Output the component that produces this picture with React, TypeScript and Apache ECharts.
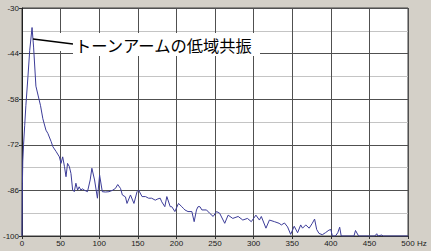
import React, { useEffect, useRef } from "react";
import * as echarts from "echarts";

// Frequency response (Hz, dB)
const freqHz: number[] = [
  0, 0.5, 1, 2, 3.5, 5, 7.7, 10, 13, 15, 18, 21, 24, 27, 31, 33.5, 37.7, 40, 44, 48.4,
  50.5, 52.7, 55, 57, 59, 61.3, 63.4, 65.6, 67.7, 69.8, 72, 74, 76.3, 78, 80.5, 84.8, 88.3, 90.5, 94, 97.7,
  100.5, 104, 108, 112.7, 117, 121, 124, 127.6, 130, 134, 136, 140.5, 145, 149, 151, 155.5, 160, 164, 168, 172.6,
  176, 179, 181, 185, 187.6, 192, 194, 198, 202.7, 207, 209, 211, 215, 220, 223, 226, 228, 230.5, 233, 239,
  243, 247.6, 252, 256, 262.6, 267, 273, 280, 286, 292, 297, 303, 307.5, 310, 316, 320.5, 327, 333, 336, 340,
  344, 348, 352.6, 357, 361, 363.4, 367.6, 372, 376, 379, 381.7, 384.7, 389, 393, 397.6, 400, 402, 406, 409, 411.5,
  413.5, 430, 432, 436, 457, 459.5, 461, 466, 468, 500,
];
const levelDb: number[] = [
  -100, -84, -77, -72, -66, -60, -51, -43, -36, -42, -54, -57, -60, -64, -67.5, -68.5, -71, -72.6, -74, -75.7,
  -77.7, -75.7, -78.7, -81.8, -77.7, -78.7, -80.8, -85.9, -86.4, -83.8, -85.9, -84.9, -85.9, -85.5, -85.9, -86.4, -82.8, -79.2, -82.8, -88.4,
  -81.3, -86.4, -86.5, -86.4, -86, -85.4, -84.2, -85.4, -87.4, -88, -90, -87.4, -90, -86.4, -85.9, -87.9, -87.9, -88.4, -88.4, -89,
  -88.6, -88.4, -89.5, -91, -87.9, -91, -91, -92.5, -90, -91, -91.5, -92, -92.5, -92.5, -95.6, -92, -91, -91, -92, -92,
  -93, -94, -92.5, -93, -96.1, -93.6, -94.6, -94, -95.1, -94.6, -95.6, -93.6, -95.1, -94, -97.6, -95.1, -95.6, -96.1, -96.6, -96,
  -97.2, -99.5, -97, -99, -96.6, -97.6, -96.6, -97.6, -96.1, -94.8, -98, -99.2, -99.6, -99, -98.2, -98, -100, -100, -99, -97.3,
  -100, -100, -98.3, -100, -100, -99.3, -100, -99.7, -100, -100,
];

const xTicks: number[] = [0, 50, 100, 150, 200, 250, 300, 350, 400, 450, 500];
const yTicks: number[] = [-100, -86, -72, -58, -44, -30];
const unitLabel = "Hz";
const annotation = "トーンアームの低域共振";

export default function App() {
  const ref = useRef<HTMLDivElement>(null);
  useEffect(() => {
    if (!ref.current) return;
    const chart = echarts.init(ref.current, null, { renderer: "svg" });
    const data = freqHz.map((f, i) => [f, levelDb[i]]);
    const labelStyle = {
      color: "#1a1a1a",
      fontSize: 8,
      fontFamily: "Liberation Sans, Arial, sans-serif",
    };
    chart.setOption({
      animation: false,
      backgroundColor: "#d4d0c8",
      grid: {
        left: 19,
        top: 8,
        width: 389,
        height: 228,
        show: true,
        backgroundColor: "#ffffff",
        borderColor: "#404040",
        borderWidth: 1,
      },
      xAxis: {
        type: "value",
        min: xTicks[0],
        max: xTicks[xTicks.length - 1],
        interval: 50,
        axisLine: { show: true, lineStyle: { color: "#303030", width: 1 } },
        axisTick: { show: true, length: 3, lineStyle: { color: "#303030" } },
        axisLabel: { ...labelStyle, margin: 3, formatter: (v: number) => String(v) },
        splitLine: { show: true, lineStyle: { color: "#505050", width: 1 } },
      },
      yAxis: {
        type: "value",
        min: yTicks[0],
        max: yTicks[yTicks.length - 1],
        interval: 14,
        axisLine: { show: true, lineStyle: { color: "#202020", width: 1 } },
        axisTick: { show: true, length: 3, lineStyle: { color: "#303030" } },
        axisLabel: { ...labelStyle, margin: 3, formatter: (v: number) => String(v) },
        splitLine: { show: true, lineStyle: { color: "#505050", width: 1 } },
        minorTick: { show: false, splitNumber: 2 },
        minorSplitLine: { show: true, lineStyle: { color: "#c4c4c4", width: 1 } },
      },
      series: [
        {
          type: "line",
          data,
          showSymbol: false,
          lineStyle: { color: "#3c3c98", width: 1 },
          z: 3,
        },
      ],
      graphic: [
        {
          type: "rect",
          z: 10,
          shape: { x: 73, y: 33, width: 187, height: 23 },
          style: { fill: "#ffffff" },
        },
        {
          type: "rect",
          z: 10,
          shape: { x: 55, y: 33, width: 18, height: 18 },
          style: { fill: "#ffffff" },
        },
        {
          type: "text",
          z: 11,
          x: 75,
          y: 45,
          style: {
            text: annotation,
            fill: "#000000",
            fontSize: 16.3,
            fontFamily: "Noto Sans CJK JP",
            verticalAlign: "middle",
            align: "left",
          },
        },
        {
          type: "line",
          z: 11,
          shape: { x1: 33, y1: 39, x2: 73, y2: 44 },
          style: { stroke: "#000000", lineWidth: 1.5 },
        },
        {
          type: "text",
          z: 11,
          x: 417,
          y: 243,
          style: {
            text: unitLabel,
            fill: "#1a1a1a",
            fontSize: 8,
            fontFamily: "Liberation Sans, Arial, sans-serif",
            verticalAlign: "middle",
          },
        },
      ],
    });
    return () => chart.dispose();
  }, []);
  return (
    <div
      ref={ref}
      style={{ position: "fixed", left: 0, top: 0, width: 431, height: 251 }}
    />
  );
}
